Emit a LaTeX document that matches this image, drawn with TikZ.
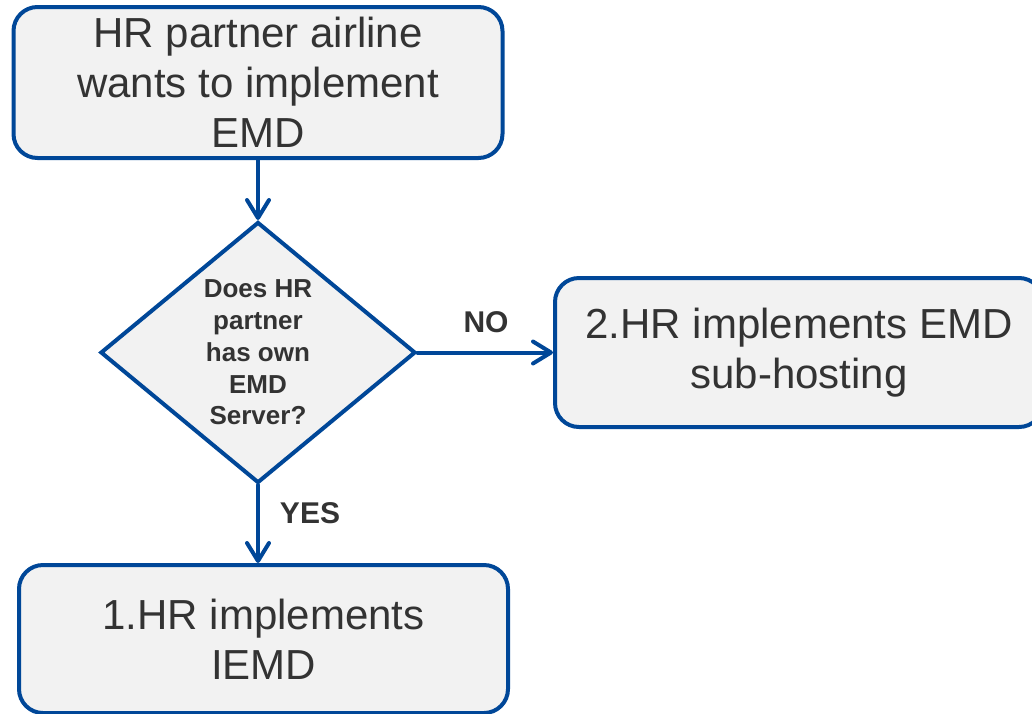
\documentclass[tikz,border=0pt]{standalone}
\usepackage{fontspec}
\setmainfont{Liberation Sans}
\usetikzlibrary{shapes.geometric,arrows.meta}
\definecolor{hrblue}{RGB}{0,71,152}
\definecolor{boxfill}{HTML}{F2F2F2}
\definecolor{txt}{HTML}{333333}
\begin{document}
\begin{tikzpicture}[x=1pt,y=-1pt,
  box/.style={draw=hrblue, line width=4pt, fill=boxfill, rounded corners=24pt,
    inner sep=0pt, align=center, text=txt, font=\fontsize{42}{50}\selectfont},
  decision/.style={diamond, draw=hrblue, line width=4pt, fill=boxfill, inner sep=0pt,
    aspect=1.2, minimum width=315pt, minimum height=261pt, align=center, text=txt,
    font=\fontsize{26}{31.7}\selectfont\bfseries},
  lbl/.style={inner sep=0pt, text=txt, font=\fontsize{30}{36}\selectfont\bfseries},
  arr/.style={draw=hrblue, line width=4pt, line cap=round,
    -{Straight Barb[length=18pt,width=22pt,round]}}]
\useasboundingbox (0,0) rectangle (1032,713);
\node[box, minimum width=489pt, minimum height=151pt] (start) at (258,82.5)
  {HR partner airline\\wants to implement\\EMD};
\node[decision] (dec) at (258,352.5) {Does HR\\partner\\has own\\EMD\\Server?};
\node[box, minimum width=488pt, minimum height=149pt] (opt2) at (799,352.5)
  {2.HR implements EMD\\sub-hosting};
\node[box, minimum width=489pt, minimum height=148pt] (opt1) at (263.5,639)
  {1.HR implements\\IEMD};
\draw[arr] (start.south) -- (dec.north);
\draw[arr] (dec.east) -- (dec.east -| opt2.west);
\draw[arr] (dec.south) -- (dec.south |- opt1.north);
\node[lbl] (no) at (486,322) {NO};
\node[lbl] (yes) at (310,513) {YES};
\end{tikzpicture}
\end{document}
